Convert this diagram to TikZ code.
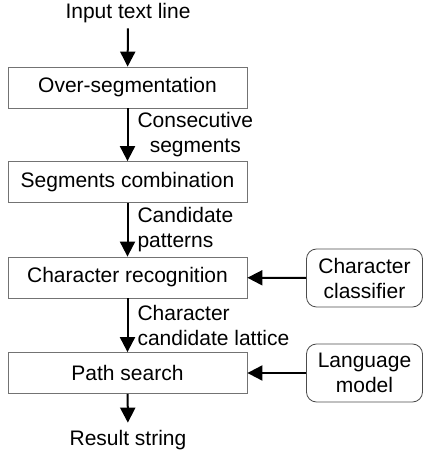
\documentclass[tikz,border=0pt]{standalone}
\usepackage{fontspec}
\setmainfont{Liberation Sans}
\usetikzlibrary{arrows.meta}

\tikzset{
  stage/.style={draw=black!55,line width=0.8pt,minimum width=239pt,minimum height=41pt,inner sep=0pt},
  model/.style={draw=black!70,line width=0.8pt,rounded corners=10pt,minimum width=116pt,minimum height=58pt,align=center,inner sep=0pt},
  flow/.style={-{Triangle[length=15pt,width=15pt]},line width=2pt},
  note/.style={midway,anchor=west,xshift=6pt,inner sep=3pt}
}

\begin{document}
\begin{tikzpicture}[x=1pt,y=1pt,font=\fontsize{21}{25}\selectfont]
  \useasboundingbox (0,0) rectangle (424,464);
  \node (in) at (128,451) {Input text line};
  \node[stage] (seg) at (127.5,376.5) {Over-segmentation};
  \node[stage] (comb) at (127.5,282) {Segments combination};
  \node[stage] (rec) at (127.5,186.5) {Character recognition};
  \node[stage] (path) at (127.5,91) {Path search};
  \node (out) at (128,24) {Result string};
  \node[model] (clf) at (364.5,186) {Character\\classifier};
  \node[model] (lm) at (364.5,91) {Language\\model};

  \draw[flow,shorten <=2pt] (in) -- (seg);
  \draw[flow] (seg) -- (comb) node[note,align=center] {Consecutive\\segments};
  \draw[flow] (comb) -- (rec) node[note,align=left] {Candidate\\patterns};
  \draw[flow] (rec) -- (path) node[note,align=left] {Character\\candidate lattice};
  \draw[flow,shorten >=4pt] (path) -- (out);
  \draw[flow] (clf) -- (rec);
  \draw[flow] (lm) -- (path);
\end{tikzpicture}
\end{document}
